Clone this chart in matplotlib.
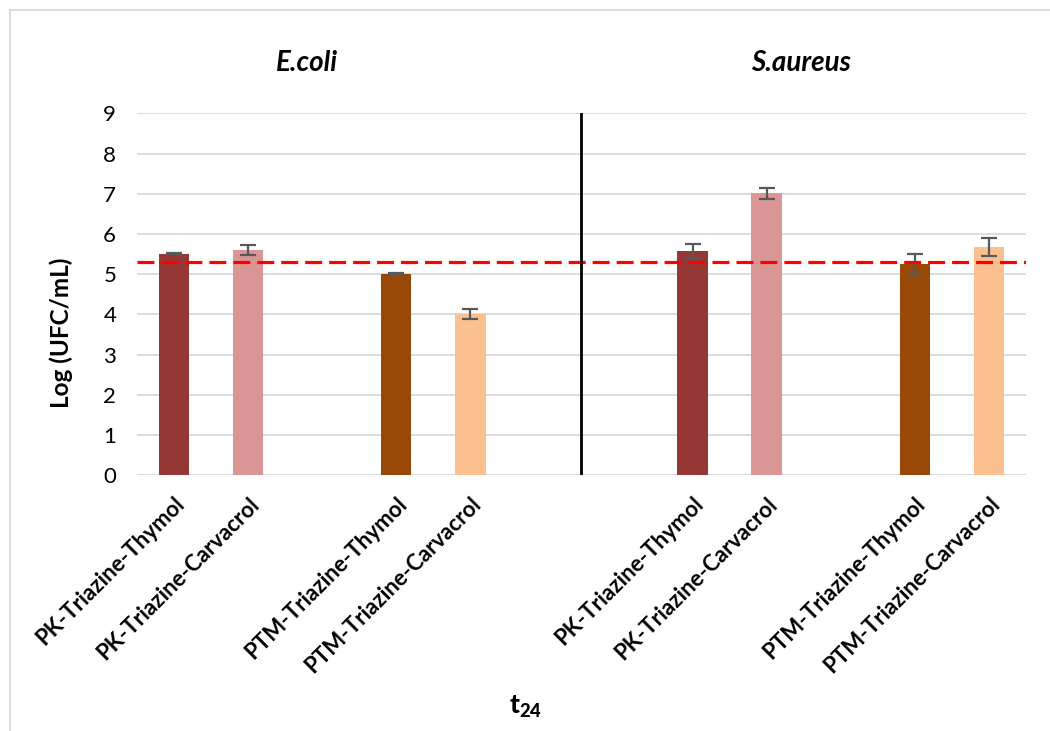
import matplotlib
matplotlib.use("Agg")
import matplotlib.pyplot as plt
from matplotlib.lines import Line2D
import numpy as np

plt.rcParams['font.family'] = ['Lato', 'DejaVu Sans']
plt.rcParams['mathtext.fontset'] = 'custom'
plt.rcParams['mathtext.rm'] = 'Lato:bold'
plt.rcParams['mathtext.bf'] = 'Lato:black'
plt.rcParams['mathtext.it'] = 'Lato:bold:italic'

# data (t24, log UFC/mL)
labels = ["PK-Triazine-Thymol", "PK-Triazine-Carvacrol", "",
          "PTM-Triazine-Thymol", "PTM-Triazine-Carvacrol", "", "",
          "PK-Triazine-Thymol", "PK-Triazine-Carvacrol", "",
          "PTM-Triazine-Thymol", "PTM-Triazine-Carvacrol"]
values = [5.51, 5.60, np.nan, 5.00, 4.01, np.nan, np.nan,
          5.57, 7.01, np.nan, 5.24, 5.67]
errors = [0.02, 0.12, 0, 0.03, 0.12, 0, 0,
          0.19, 0.13, 0, 0.25, 0.22]
colors = ["#953735", "#d99694", "w", "#984807", "#fac090", "w", "w",
          "#953735", "#d99694", "w", "#984807", "#fac090"]
groups = ["E.coli", "S.aureus"]
ref_level = 5.3

fig = plt.figure(figsize=(10.5, 7.31), dpi=100)
ax = fig.add_axes([0.1305, 0.350, 0.8465, 0.495])

x = np.arange(len(labels))
ax.bar(x, values, width=0.41, color=colors, zorder=3)
for xi, v, e in zip(x, values, errors):
    if not np.isnan(v):
        ax.errorbar(xi, v, yerr=e, color="#595959", elinewidth=1.6,
                    capsize=5.5, capthick=1.6, zorder=4)

ax.axhline(ref_level, color="red", lw=2.3, dashes=(5.3, 2.2), zorder=5)
ax.axvline(5.5, color="black", lw=2, zorder=5)

ax.set_xlim(-0.5, 11.5)
ax.set_ylim(0, 9)
ax.set_yticks(range(0, 10))
ax.grid(axis="y", color="#d9d9d9", lw=1.3, zorder=0)
for s in ["left", "right", "top", "bottom"]:
    ax.spines[s].set_visible(False)
ax.tick_params(axis="both", length=0)
ax.tick_params(axis="y", labelsize=16, pad=15)
ax.set_xticks(x)
ax.set_xticklabels(labels, rotation=45, ha="right", rotation_mode="anchor",
                   fontsize=16, fontweight="bold")
ax.tick_params(axis="x", pad=13)

# axis titles
fig.text(61 / 1050, 1 - 333 / 731, "Log (UFC/mL)", rotation=90,
         ha="center", va="center", fontsize=17.5, fontweight="bold")
fig.text(526 / 1050, 1 - 707 / 731, r"$\mathbf{t}_{\mathbf{24}}$",
         ha="center", va="center", fontsize=19)

fig.text(307 / 1050, 1 - 63 / 731, groups[0], ha="center", va="center",
         fontsize=20, fontweight="bold", fontstyle="italic")
fig.text(801 / 1050, 1 - 63 / 731, groups[1], ha="center", va="center",
         fontsize=20, fontweight="bold", fontstyle="italic")

# chart border (only top and left visible in the crop)
fig.add_artist(Line2D([10 / 1050, 10 / 1050], [0, 1 - 10 / 731],
                      transform=fig.transFigure, color="#d9d9d9", lw=1.3))
fig.add_artist(Line2D([10 / 1050, 1], [1 - 10 / 731, 1 - 10 / 731],
                      transform=fig.transFigure, color="#d9d9d9", lw=1.3))

fig.savefig("out.png", dpi=100)
